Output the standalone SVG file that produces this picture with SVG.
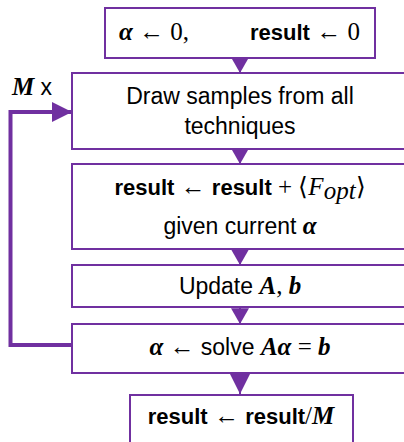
<svg xmlns="http://www.w3.org/2000/svg" width="404" height="442" viewBox="0 0 404 442">
<style>
.box{fill:#fff;stroke:#7030A0;stroke-width:2}
.t{font-family:"Liberation Sans",Arial,sans-serif;font-size:23px;fill:#000}
.b{font-weight:bold;font-size:22px}
.m{font-family:"Liberation Serif","Times New Roman",serif;font-size:25px}
.mi{font-family:"Liberation Serif","Times New Roman",serif;font-style:italic;font-weight:bold;font-size:25px}
.mit{font-family:"Liberation Serif","Times New Roman",serif;font-style:italic;font-size:25px}
.c{fill:none;stroke:#7030A0}
</style>
<defs>
<marker id="ah" markerUnits="userSpaceOnUse" markerWidth="18" markerHeight="18" refX="14" refY="8" orient="auto" viewBox="0 0 14 16">
<path d="M0,0 L14,8 L0,16 Z" fill="#7030A0"/>
</marker>
<marker id="ah2" markerUnits="userSpaceOnUse" markerWidth="20" markerHeight="20" refX="18" refY="9" orient="auto" viewBox="0 0 18 18">
<path d="M0,0 L18,9 L0,18 Z" fill="#7030A0"/>
</marker>
</defs>
<g id="connectors">
<line class="c" stroke-width="2" x1="240" y1="58" x2="240" y2="73" marker-end="url(#ah)"/>
<line class="c" stroke-width="2" x1="240" y1="149" x2="240" y2="164" marker-end="url(#ah)"/>
<line class="c" stroke-width="2" x1="240" y1="250" x2="240" y2="265" marker-end="url(#ah)"/>
<line class="c" stroke-width="2" x1="240" y1="307" x2="240" y2="324" marker-end="url(#ah)"/>
<line class="c" stroke-width="2" x1="240" y1="373" x2="240" y2="394" marker-end="url(#ah2)"/>
<polyline class="c" stroke-width="4" points="72,345 10.5,345 10.5,112 72,112" marker-end="url(#ah2)"/>
<text class="t" x="12" y="95"><tspan class="mi" font-size="23">M</tspan> x</text>
</g>
<g id="init">
<rect class="box" x="105" y="8" width="270" height="50"/>
<text class="t" x="119" y="40"><tspan class="mi">α</tspan><tspan class="m"> ← 0,</tspan></text>
<text class="t" x="250" y="40"><tspan class="b">result</tspan><tspan class="m"> ← 0</tspan></text>
</g>
<g id="draw">
<rect class="box" x="72" y="73" width="340" height="76"/>
<text class="t" x="240" y="104" text-anchor="middle">Draw samples from all</text>
<text class="t" x="240" y="134" text-anchor="middle">techniques</text>
</g>
<g id="accumulate">
<rect class="box" x="72" y="164" width="340" height="85"/>
<text class="t" x="240" y="195" text-anchor="middle"><tspan class="b">result</tspan><tspan class="m"> ← </tspan><tspan class="b">result</tspan><tspan class="m"> + ⟨</tspan><tspan class="mit">F</tspan><tspan class="mit" font-size="18" dy="4">opt</tspan><tspan class="m" dy="-4">⟩</tspan></text>
<text class="t" x="240" y="234" text-anchor="middle">given current <tspan class="mi">α</tspan></text>
</g>
<g id="update">
<rect class="box" x="72" y="265" width="340" height="42"/>
<text class="t" x="240" y="294" text-anchor="middle">Update <tspan class="mi">A</tspan><tspan class="m">, </tspan><tspan class="mi">b</tspan></text>
</g>
<g id="solve">
<rect class="box" x="72" y="324" width="340" height="49"/>
<text class="t" x="240" y="355" text-anchor="middle"><tspan class="mi">α</tspan><tspan class="m">  ← </tspan>solve <tspan class="mi">Aα</tspan><tspan class="m"> = </tspan><tspan class="mi">b</tspan></text>
</g>
<g id="final">
<rect class="box" x="130" y="395" width="223" height="60"/>
<text class="t" x="241" y="424" text-anchor="middle"><tspan class="b">result</tspan><tspan class="m"> ← </tspan><tspan class="b">result</tspan><tspan class="m">/</tspan><tspan class="mi">M</tspan></text>
</g>
</svg>
